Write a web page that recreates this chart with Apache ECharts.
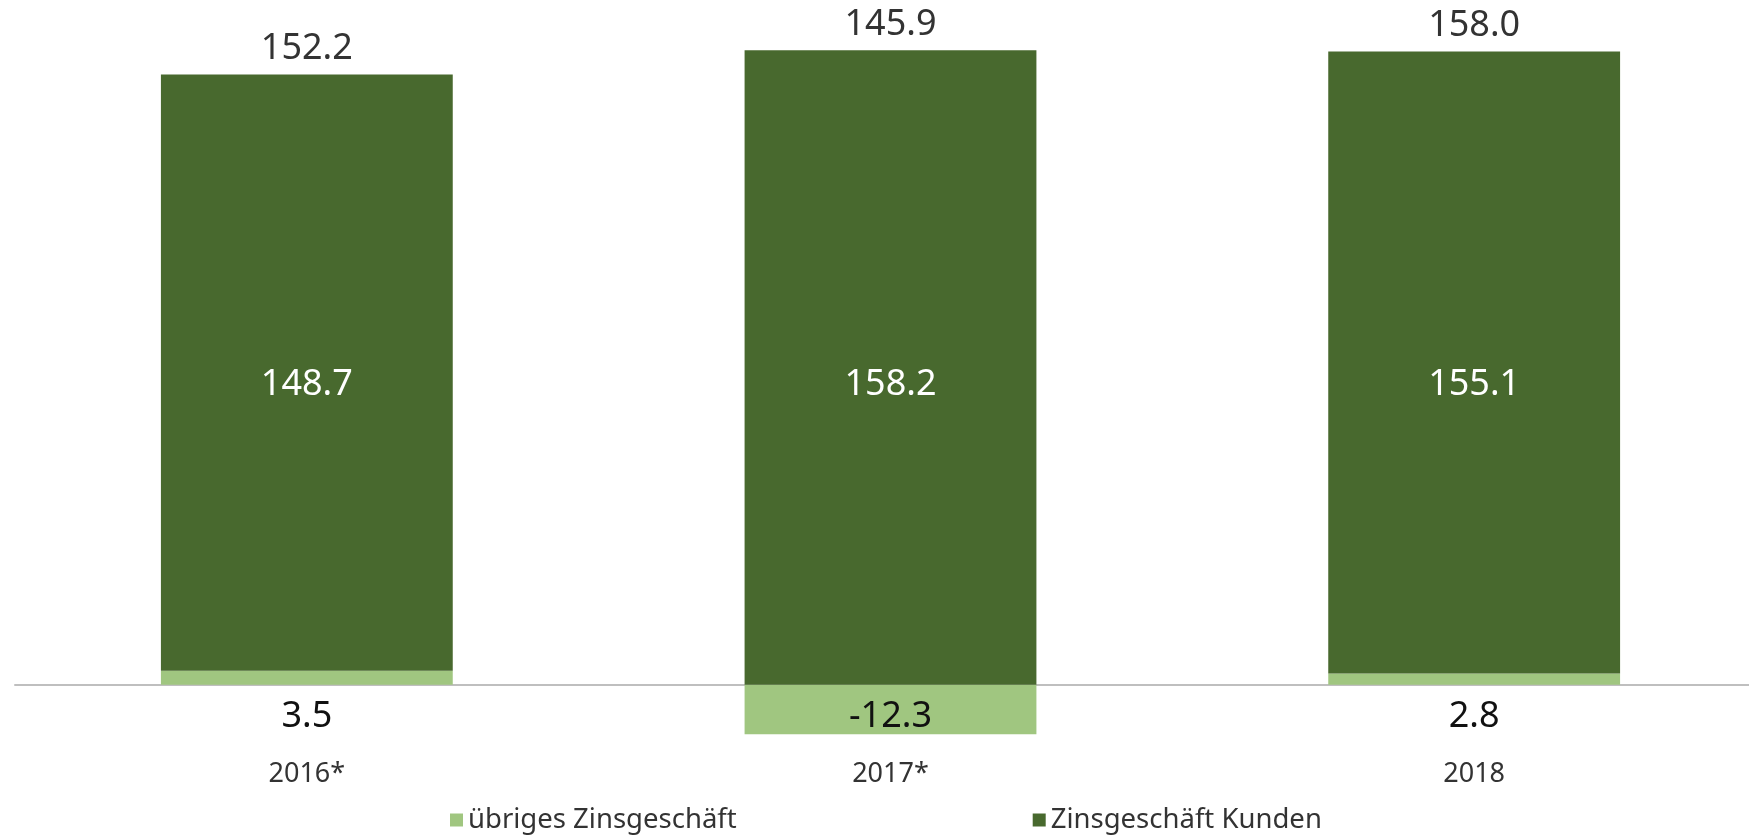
<!DOCTYPE html>
<html>
<head>
<meta charset="utf-8">
<script src="https://cdn.jsdelivr.net/npm/echarts@6/dist/echarts.min.js"></script>
<style>
  html, body { margin: 0; padding: 0; background: #fff; }
  #zins { width: 1749px; height: 835px; }
</style>
</head>
<body>
<div id="zins"></div>
<script>
// Daten
const years = ['2016*', '2017*', '2018'];
const uebriges = [3.5, -12.3, 2.8];
const kunden = [148.7, 158.2, 155.1];
const gesamt = [152.2, 145.9, 158.0];

const font = '"Noto Sans", sans-serif';

let myChart = echarts.init(document.getElementById('zins'));

// Label mittig über dem Balken auf fester Höhe
const fixY = y => p => ({
  x: p.rect.x + p.rect.width / 2,
  y: y,
  align: 'center',
  verticalAlign: 'middle'
});

myChart.setOption({
  animation: false,
  grid: {
    left: 15,
    width: 1751,
    top: 3,
    bottom: 90,
    outerBoundsMode: 'none',
    containLabel: false
  },
  legend: {
    data: ['übriges Zinsgeschäft', 'Zinsgeschäft Kunden'],
    left: 450,
    top: 806,
    padding: 0,
    icon: 'rect',
    itemWidth: 13,
    itemHeight: 13,
    itemGap: 296,
    textStyle: {
      fontFamily: font,
      fontSize: 27.5,
      color: '#333'
    }
  },
  xAxis: {
    type: 'category',
    data: years,
    axisLine: {
      onZero: true,
      lineStyle: { color: '#bfbfbf', width: 2 }
    },
    axisTick: { show: false },
    axisLabel: {
      margin: 16,
      fontFamily: font,
      fontSize: 27,
      color: '#333'
    }
  },
  yAxis: {
    type: 'value',
    min: -15,
    max: 170,
    show: false,
    splitLine: { show: false }
  },
  series: [
    {
      name: 'übriges Zinsgeschäft',
      type: 'bar',
      stack: 'zins',
      barWidth: '50%',
      data: uebriges,
      itemStyle: { color: '#a0c680' },
      label: {
        show: true,
        position: 'inside',
        fontFamily: font,
        fontSize: 36,
        color: '#111',
        formatter: p => p.value.toFixed(1)
      },
      labelLayout: fixY(717)
    },
    {
      name: 'Zinsgeschäft Kunden',
      type: 'bar',
      stack: 'zins',
      data: kunden,
      itemStyle: { color: '#48692e' },
      label: {
        show: true,
        position: 'inside',
        fontFamily: font,
        fontSize: 36,
        color: '#fff',
        formatter: p => p.value.toFixed(1)
      },
      labelLayout: fixY(385)
    },
    {
      // Summe über dem Stapel
      name: 'Summe',
      type: 'bar',
      stack: 'zins',
      data: gesamt.map(() => 0),
      itemStyle: { color: 'transparent' },
      label: {
        show: true,
        position: 'top',
        distance: 8,
        fontFamily: font,
        fontSize: 36,
        color: '#333',
        formatter: p => gesamt[p.dataIndex].toFixed(1)
      }
    }
  ]
});

window.addEventListener('resize', () => {
  myChart.resize();
});
</script>
</body>
</html>
